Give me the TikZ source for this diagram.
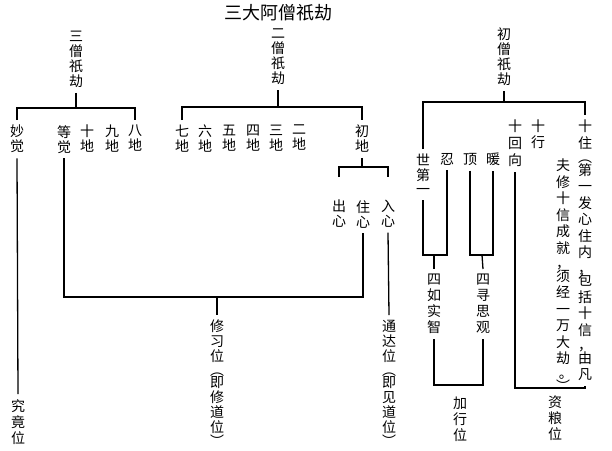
\documentclass[tikz,border=0pt]{standalone}
\usepackage{fontspec}
\setmainfont{Noto Sans CJK SC}
\tikzset{
  vt/.style={font=\fontsize{14}{#1}\selectfont, align=center, inner xsep=0pt, inner ysep=5pt, anchor=north},
  vt/.default=15,
  ln/.style={line width=1.3pt, line cap=butt, line join=miter}
}
% #1 name, #2 x, #3 centre of first character (px from top), #4 pitch, #5 text
\newcommand\vnode[5]{\node[vt=#4] (#1) at (#2,{#3-11}) {#5};}
\begin{document}
\begin{tikzpicture}[x=1pt,y=-1pt]
\useasboundingbox (0,0) rectangle (612,450);
\node[font=\fontsize{18}{18}\selectfont, inner sep=0pt] (title) at (278,13) {三大阿僧祇劫};
% headings
\vnode{sg3}{76}{37}{15}{三\\僧\\祇\\劫}
\vnode{sg2}{278}{35}{15}{二\\僧\\祇\\劫}
\vnode{sg1}{504}{34}{15}{初\\僧\\祇\\劫}
% row of stages
\vnode{miao}{17}{131}{15}{妙\\觉}
\vnode{deng}{64}{131}{15}{等\\觉}
\vnode{d10}{87}{131}{15}{十\\地}
\vnode{d9}{112}{131}{15}{九\\地}
\vnode{d8}{135}{131}{15}{八\\地}
\vnode{d7}{182}{131}{15}{七\\地}
\vnode{d6}{205}{131}{15}{六\\地}
\vnode{d5}{229}{131}{15}{五\\地}
\vnode{d4}{253}{131}{15}{四\\地}
\vnode{d3}{276}{131}{15}{三\\地}
\vnode{d2}{299}{131}{15}{二\\地}
\vnode{d1}{362}{131}{15}{初\\地}
\vnode{chuxin}{339}{206}{15}{出\\心}
\vnode{zhuxin}{363}{206}{15}{住\\心}
\vnode{ruxin}{388}{206}{15}{入\\心}
% right part
\vnode{shi}{423}{160}{14.5}{世\\第\\一}
\vnode{ren}{447}{159}{15}{忍}
\vnode{ding}{470}{159}{15}{顶}
\vnode{nuan}{493}{159}{15}{暖}
\vnode{shihui}{515}{126}{17}{十\\回\\向}
\vnode{shixing}{538}{126}{16}{十\\行}
\vnode{shizhu}{585}{126}{16.5}{十\\住\\[-2pt]︵\\[-4pt]第\\一\\发\\心\\住\\内\\[-1pt]，\\[-4pt]包\\括\\十\\信\\[-1pt]，\\[-4pt]由\\凡}
\vnode{fu}{563}{165}{16.5}{夫\\修\\十\\信\\成\\就\\[-1pt]，\\[-4pt]须\\经\\一\\万\\大\\劫\\[-2pt]\hspace{0.4em}。\\[-3pt]︶}
\vnode{sirushi}{434}{280}{16}{四\\如\\实\\智}
\vnode{sixun}{483}{280}{16}{四\\寻\\思\\观}
\vnode{jiaxing}{460}{403}{16}{加\\行\\位}
\vnode{ziliang}{555}{402}{16}{资\\粮\\位}
% bottom left
\vnode{jiujing}{18}{405}{16}{究\\竟\\位}
\vnode{xiuxi}{217}{326}{15}{修\\习\\位\\[-1.5pt]︵\\[-2.5pt]即\\修\\道\\位\\[-1.5pt]︶}
\vnode{tongda}{389}{326}{15}{通\\达\\位\\[-1.5pt]︵\\[-2.5pt]即\\见\\道\\位\\[-1.5pt]︶}
% junction points
\coordinate (b3) at (76,108);
\coordinate (b2) at (278,107);
\coordinate (b1) at (504,102);
\coordinate (b6) at (362,167);
\coordinate (b4) at (217,297);
\coordinate (b7) at (434,255);
\coordinate (b8) at (482,255);
\coordinate (b9) at (458,385);
\coordinate (b10) at (550,388);
% connectors
\draw[ln] (sg3.south) -- (b3);
\draw[ln] (miao.north) |- (b3) -| (d8.north);
\draw[ln] (sg2.south) -- (b2);
\draw[ln] (d7.north) |- (b2) -| (d1.north);
\draw[ln] (sg1.south) -- (b1);
\draw[ln] (shi.north) |- (b1) -| (shizhu.north);
\draw[ln] (d1.south) -- (b6);
\draw[ln, shorten <=18pt, shorten >=18pt] (chuxin.north) |- (b6) -| (ruxin.north);
\draw[ln] (miao.south) -- (jiujing.north);
\draw[ln] (deng.south) |- (b4) -| (zhuxin.south);
\draw[ln] (b4) -- (xiuxi.north);
\draw[ln] (ruxin.south) -- (tongda.north);
\draw[ln] (shi.south) |- (b7) -| (ren.south);
\draw[ln] (b7) -- (sirushi.north);
\draw[ln] (ding.south) |- (b8) -| (nuan.south);
\draw[ln] (b8) -- (sixun.north);
\draw[ln] (sirushi.south) |- (b9) -| (sixun.south);
\draw[ln] (shizhu.south) |- (b10) -| (shihui.south);
\end{tikzpicture}
\end{document}
